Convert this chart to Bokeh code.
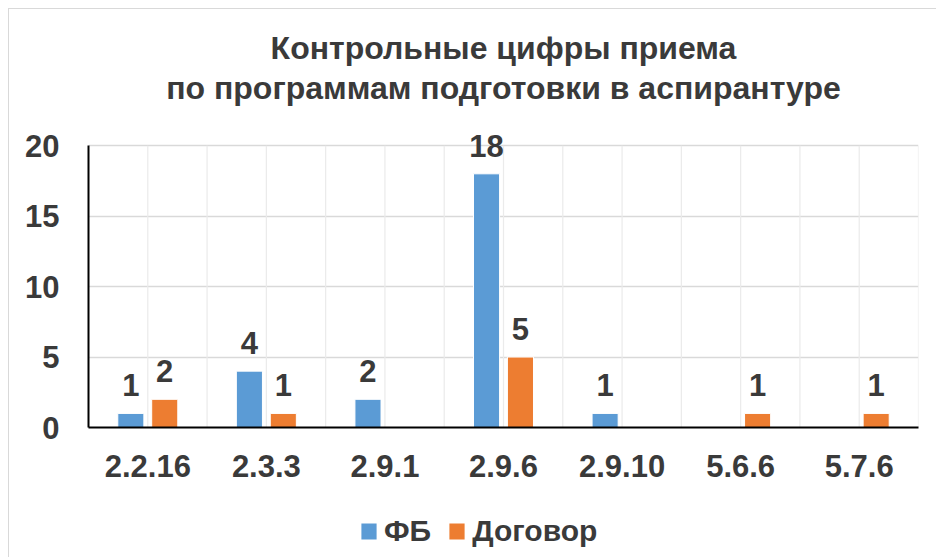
from bokeh.plotting import figure
from bokeh.layouts import column
from bokeh.models import (Range1d, FixedTicker, Title, Legend, LegendItem,
                          ColumnDataSource)
from bokeh.transform import dodge
from bokeh.core.properties import value
from bokeh.embed import file_html
from bokeh.resources import INLINE

# ---- data ----
categories = ["2.2.16", "2.3.3", "2.9.1", "2.9.6", "2.9.10", "5.6.6", "5.7.6"]
fb = [1, 4, 2, 18, 1, 0, 0]
dogovor = [2, 1, 0, 5, 0, 1, 1]
series_names = ["ФБ", "Договор"]
title_lines = ["Контрольные цифры приема", "по программам подготовки в аспирантуре"]
y_ticks = [0, 5, 10, 15, 20]

BLUE = "#5B9BD5"
ORANGE = "#ED7D31"
TXT = "#3a3a3a"
FONT = "Liberation Sans"

n = len(categories)
xs = [i + 0.5 for i in range(n)]

W = 927
H_MAIN = 486
H_LEG = 62

p = figure(width=W, height=H_MAIN, output_backend="svg", toolbar_location=None,
           x_range=Range1d(0, n), y_range=Range1d(0, 21.5),
           min_border_left=79, min_border_right=18, min_border_top=115,
           min_border_bottom=H_MAIN - 418)
p.outline_line_color = None
p.background_fill_color = "white"
p.border_fill_color = "white"

# grids
p.xgrid.visible = False
p.ygrid.ticker = FixedTicker(ticks=y_ticks)
p.ygrid.grid_line_color = "#d9d9d9"
p.ygrid.grid_line_width = 1.5
vx = [i * 0.5 for i in range(1, 2 * n + 1)]
p.segment(x0=vx, y0=[y_ticks[0]] * len(vx), x1=vx, y1=[y_ticks[-1]] * len(vx),
          line_color="#ebebeb", line_width=1.2)

src = ColumnDataSource(dict(x=xs, fb=fb, dog=dogovor))
off = 0.143
bw = 0.22
r1 = p.vbar(x=dodge("x", -off, range=p.x_range), top="fb", width=bw, source=src,
            fill_color=BLUE, line_color="white", line_width=1)
r2 = p.vbar(x=dodge("x", off, range=p.x_range), top="dog", width=bw, source=src,
            fill_color=ORANGE, line_color="white", line_width=1)

# data labels (nonzero only)
lab_fb = ColumnDataSource(dict(x=[x for x, v in zip(xs, fb) if v],
                               y=[v for v in fb if v],
                               t=[str(v) for v in fb if v]))
lab_dg = ColumnDataSource(dict(x=[x for x, v in zip(xs, dogovor) if v],
                               y=[v for v in dogovor if v],
                               t=[str(v) for v in dogovor if v]))
for s, o in ((lab_fb, -off), (lab_dg, off)):
    p.text(x=dodge("x", o, range=p.x_range), y="y", text="t", source=s,
           text_align="center", text_baseline="bottom", y_offset=-17,
           text_font=value(FONT), text_font_style="bold",
           text_font_size="31px", text_color=TXT)

# axes
p.yaxis.ticker = FixedTicker(ticks=y_ticks)
p.yaxis.bounds = (y_ticks[0], y_ticks[-1])
p.xaxis.ticker = FixedTicker(ticks=xs)
p.xaxis.major_label_overrides = {x: c for x, c in zip(xs, categories)}
for ax in (p.xaxis[0], p.yaxis[0]):
    ax.axis_line_color = "black"
    ax.axis_line_width = 2
    ax.major_tick_line_color = None
    ax.minor_tick_line_color = None
    ax.major_tick_out = 0
    ax.major_tick_in = 0
    ax.major_label_text_font = FONT
    ax.major_label_text_font_style = "bold"
    ax.major_label_text_color = TXT
    ax.major_label_text_font_size = "31px"
p.xaxis.major_label_standoff = 27
p.yaxis.major_label_standoff = 29

# two-line title
title = Title(text="\n".join(title_lines), align="center", text_font=FONT,
              text_font_style="bold", text_font_size="32px",
              text_line_height=1.1, text_color=TXT, standoff=37)
try:
    title.text_align = "center"
except Exception:
    pass
p.add_layout(title, "above")

# legend strip (its own small figure below the chart; frames align in column)
lg = figure(width=W, height=H_LEG, output_backend="svg", toolbar_location=None,
            x_range=Range1d(0, 1), y_range=Range1d(0, 1),
            x_axis_type=None, y_axis_type=None, min_border=0,
            min_border_left=0, min_border_right=0, min_border_top=0,
            min_border_bottom=0)
lg.outline_line_color = None
lg.border_fill_color = "white"
leg_src = ColumnDataSource(dict(x=[xs[0]], top=[0]))
lr1 = lg.vbar(x="x", top="top", width=0.01, source=leg_src,
              fill_color=BLUE, line_color=None)
lr2 = lg.vbar(x="x", top="top", width=0.01, source=leg_src,
              fill_color=ORANGE, line_color=None)
legend = Legend(items=[LegendItem(label=series_names[0], renderers=[lr1]),
                       LegendItem(label=series_names[1], renderers=[lr2])],
                orientation="horizontal", location=(271, 9),
                label_text_font=FONT, label_text_font_style="bold",
                label_text_font_size="30px", label_text_color=TXT,
                glyph_width=19, glyph_height=20, label_standoff=6, spacing=16,
                border_line_color=None, background_fill_alpha=0, margin=0, padding=4)
lg.add_layout(legend, "center")

layout = column(p, lg, spacing=0)
layout.styles = {"margin-left": "8px", "margin-top": "8px",
                 "border-left": "1px solid #d9d9d9", "border-top": "1px solid #d9d9d9"}

open("out.html", "w").write(file_html(layout, INLINE))
